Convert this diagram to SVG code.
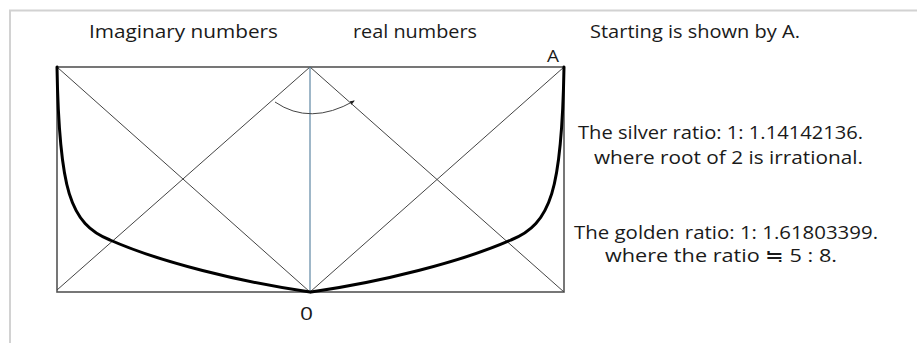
<svg xmlns="http://www.w3.org/2000/svg" width="917" height="343" viewBox="0 0 917 343">
  <style>
    .t { font-family: "Open Sans", "Liberation Sans", Arial, sans-serif; fill: #1a1a1a; }
    .thin { stroke: #444; stroke-width: 1; fill: none; }
    .rect { stroke: #555; stroke-width: 1.6; fill: none; }
    .curve { stroke: #000; stroke-width: 3; fill: none; stroke-linecap: round; }
    .axis { stroke: #5f87a3; stroke-width: 1.2; fill: none; }
  </style>
  <defs>
    <marker id="tip" viewBox="0 0 10 10" refX="8" refY="5" markerWidth="5" markerHeight="5" orient="auto">
      <path d="M0,1 L10,5 L0,9 z" fill="#222"/>
    </marker>
  </defs>
  <rect x="0" y="0" width="917" height="343" fill="#fff"/>
  <g id="frame">
    <path d="M10,343 L10,10.5 L917,10.5" stroke="#d2d2d2" stroke-width="2" fill="none"/>
  </g>
  <g id="box">
    <rect class="rect" x="57" y="67" width="507" height="225"/>
  </g>
  <g id="connectors">
    <line class="thin" x1="57" y1="67" x2="310" y2="292"/>
    <line class="thin" x1="310" y1="67" x2="57" y2="290"/>
    <line class="thin" x1="310" y1="67" x2="564" y2="292"/>
    <line class="thin" x1="310" y1="292" x2="564" y2="67"/>
    <line class="axis" x1="310" y1="67" x2="310" y2="292"/>
    <path class="thin" d="M275,102 Q310,126 354,101" stroke-width="1.4" marker-end="url(#tip)"/>
  </g>
  <g id="curves">
    <path class="curve" d="M57,67 C59,190 70,224 110,240 C160,262 240,282 310,292"/>
    <path class="curve" d="M564,67 C562,190 551,224 511,240 C461,262 381,282 311,292"/>
  </g>
  <g id="labels">
    <text class="t" x="89" y="37.5" font-size="17.5" textLength="189" lengthAdjust="spacingAndGlyphs">Imaginary numbers</text>
    <text class="t" x="353" y="37.5" font-size="17.5" textLength="124" lengthAdjust="spacingAndGlyphs">real numbers</text>
    <text class="t" x="590" y="37.5" font-size="17.5" textLength="210" lengthAdjust="spacingAndGlyphs">Starting is shown by A.</text>
    <text class="t" x="547" y="62" font-size="16.5" textLength="12" lengthAdjust="spacingAndGlyphs">A</text>
    <text class="t" x="300" y="320" font-size="18.5" textLength="13" lengthAdjust="spacingAndGlyphs">0</text>
  </g>
  <g id="notes">
    <text class="t" x="578" y="139" font-size="17.5" textLength="285" lengthAdjust="spacingAndGlyphs">The silver ratio: 1: 1.14142136.</text>
    <text class="t" x="594" y="164" font-size="17.5" textLength="269" lengthAdjust="spacingAndGlyphs">where root of 2 is irrational.</text>
    <text class="t" x="574" y="239" font-size="17.5" textLength="304" lengthAdjust="spacingAndGlyphs">The golden ratio:  1: 1.61803399.</text>
    <text class="t" x="605" y="262" font-size="17.5" textLength="232" lengthAdjust="spacingAndGlyphs">where the ratio  ≒  5 : 8.</text>
  </g>
</svg>
